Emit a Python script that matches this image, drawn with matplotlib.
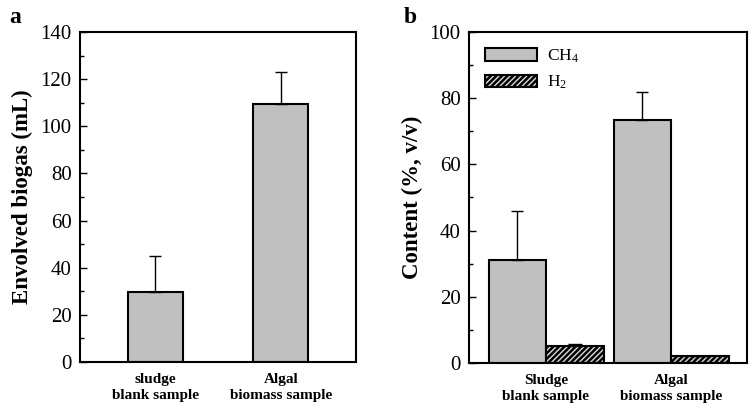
import matplotlib
matplotlib.use('Agg')
import matplotlib.pyplot as plt
from matplotlib.ticker import MultipleLocator

plt.rcParams['font.family'] = 'Liberation Serif'
plt.rcParams['mathtext.fontset'] = 'custom'
plt.rcParams['mathtext.rm'] = 'Liberation Serif'
plt.rcParams['mathtext.default'] = 'regular'
plt.rcParams['hatch.linewidth'] = 1.8

# panel a data
labels_a = ['sludge\nblank sample', 'Algal\nbiomass sample']
biogas = [29.5, 109.5]
biogas_err = [15.5, 13.5]

# panel b data
labels_b = ['Sludge\nblank sample', 'Algal\nbiomass sample']
ch4 = [31.0, 73.5]
ch4_err = [15.0, 8.5]
h2 = [5.0, 2.0]
h2_err = [0.8, 0.0]

gray = '#c0c0c0'

fig = plt.figure(figsize=(7.54, 4.11), dpi=100)
ax1 = fig.add_axes([80/754, 1-362/411, 276/754, 330/411])
ax2 = fig.add_axes([469/754, 1-363/411, 278/754, 331/411])

# a
x = [0, 1]
ax1.bar(x, biogas, width=0.44, color=gray, edgecolor='black', linewidth=1.5,
        yerr=[[0, 0], biogas_err], error_kw=dict(ecolor='black', elinewidth=1, capsize=4, capthick=1))
ax1.set_xlim(-0.6, 1.6)
ax1.set_ylim(0, 140)
ax1.yaxis.set_major_locator(MultipleLocator(20))
ax1.yaxis.set_minor_locator(MultipleLocator(10))
ax1.set_xticks(x)
ax1.set_xticklabels(labels_a, fontweight='bold', fontsize=11, linespacing=1.25)
ax1.set_ylabel('Envolved biogas (mL)', fontsize=16.5, fontweight='bold', labelpad=5)
fig.text(9/754, 1-23/411, 'a', fontsize=17, fontweight='bold')

# b
w = 0.46
xl = [i - w/2 for i in x]
xr = [i + w/2 for i in x]
ax2.bar(xl, ch4, width=w, color=gray, edgecolor='black', linewidth=1.5, label='CH$_4$',
        yerr=[[0, 0], ch4_err], error_kw=dict(ecolor='black', elinewidth=1, capsize=4, capthick=1))
ax2.bar(xr, h2, width=w, color='#d8d8d8', edgecolor='black', linewidth=1.5, hatch='//////', label='H$_2$',
        yerr=[[0, 0], h2_err], error_kw=dict(ecolor='black', elinewidth=1, capsize=5, capthick=1))
ax2.set_xlim(-0.616, 1.608)
ax2.set_ylim(0, 100)
ax2.yaxis.set_major_locator(MultipleLocator(20))
ax2.yaxis.set_minor_locator(MultipleLocator(10))
ax2.set_xticks(x)
ax2.set_xticklabels(labels_b, fontweight='bold', fontsize=11, linespacing=1.25)
ax2.set_ylabel('Content (%, v/v)', fontsize=16.5, fontweight='bold', labelpad=5)
fig.text(404/754, 1-23/411, 'b', fontsize=17, fontweight='bold')
ax2.legend(loc='upper left', frameon=False, fontsize=12.5, handlelength=3.0, handleheight=0.7,
           borderaxespad=0.5, labelspacing=0.5, handletextpad=0.6)

for ax in (ax1, ax2):
    for s in ax.spines.values():
        s.set_linewidth(1.5)
    ax.tick_params(axis='y', which='major', direction='in', length=5, width=1, labelsize=15, pad=6)
    ax.tick_params(axis='y', which='minor', direction='in', length=3, width=1)
    ax.tick_params(axis='x', length=0, pad=8)

fig.savefig('out.png', dpi=100)
